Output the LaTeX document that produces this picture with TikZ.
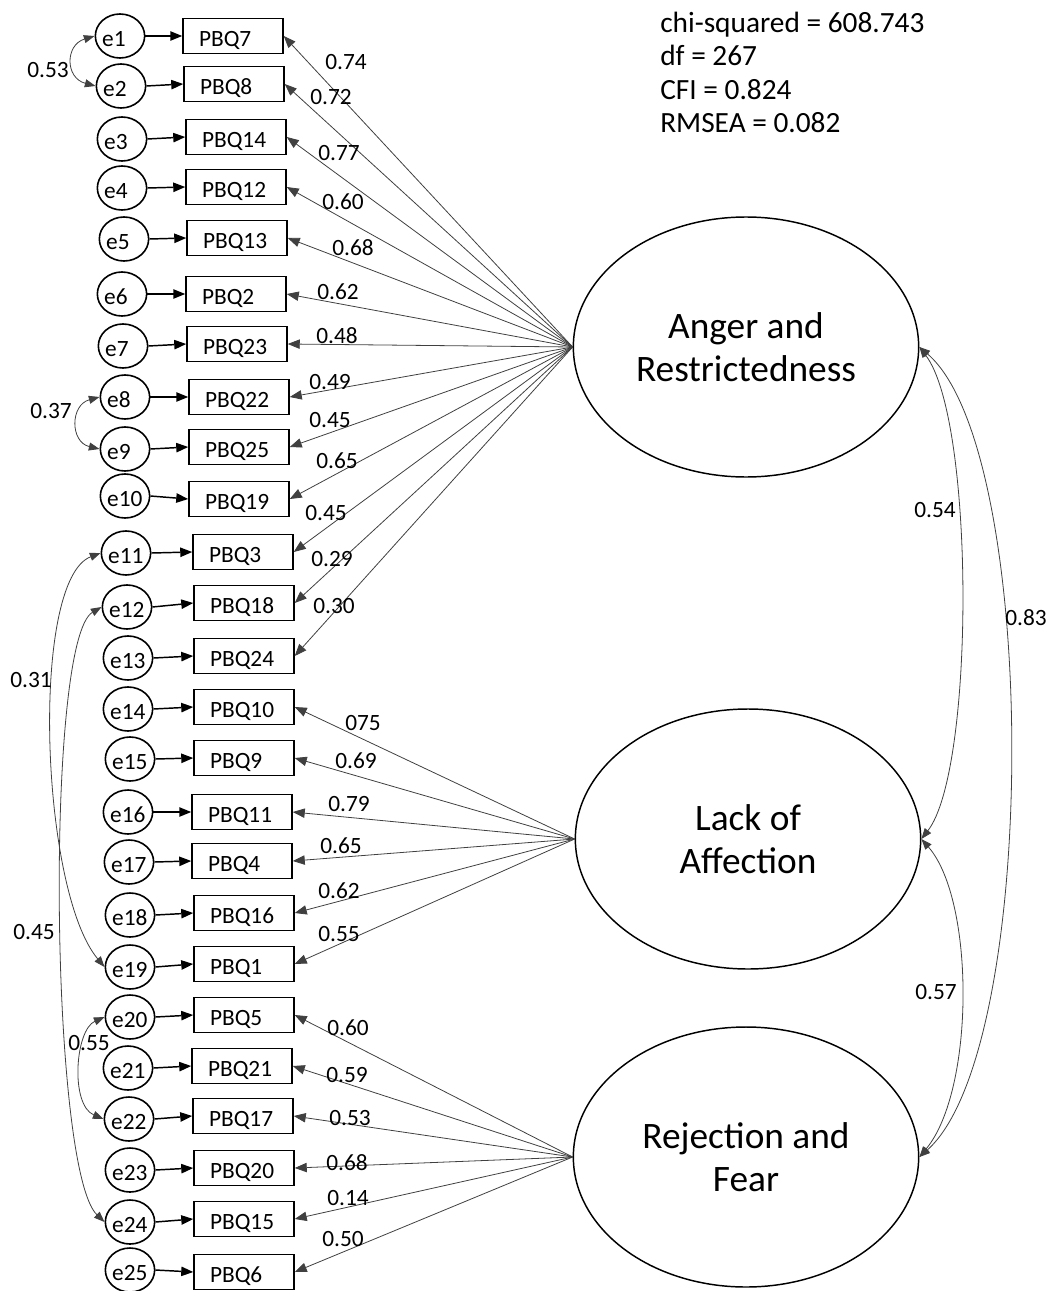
\documentclass[tikz,border=0pt]{standalone}
\usepackage{fontspec}
\setmainfont{Carlito}
\usetikzlibrary{shapes.geometric,arrows.meta}
\begin{document}
\begin{tikzpicture}[x=0.75pt,y=-0.75pt,
 errn/.style={ellipse,draw,line width=1.2pt,minimum width=37pt,minimum height=33pt,inner sep=0pt},
 errt/.style={anchor=west,inner sep=0pt,text height=17pt,text depth=1pt,font=\fontsize{17.5}{20}\selectfont},
 obsn/.style={rectangle,draw,line width=1.1pt,minimum width=75pt,minimum height=26pt,inner ysep=0pt,inner xsep=12pt,text width=51pt,align=left,text height=17pt,text depth=1pt,font=\fontsize{17.5}{20}\selectfont},
 latn/.style={ellipse,draw,line width=1.1pt,minimum width=259pt,minimum height=195pt,inner sep=0pt,align=center,font=\fontsize{28}{32}\selectfont},
 etip/.style={-{Triangle[length=9pt,width=7pt]},line width=1.1pt},
 load/.style={-{Triangle[length=9pt,width=7pt]},line width=0.6pt,draw=black!75},
 dbl/.style={{Triangle[length=8pt,width=6pt]}-{Triangle[length=8pt,width=6pt]},line width=0.6pt,draw=black!75},
 lbl/.style={inner sep=1pt,font=\fontsize{17.5}{20}\selectfont},
 fitt/.style={anchor=base west,inner sep=0pt,font=\fontsize{22}{25}\selectfont}
]
\useasboundingbox (0,0) rectangle (1047,1291);

\foreach \i/\ex/\ey/\bx/\by/\t in {
 1/120/36/233/36/PBQ7, 2/121/86/234/84/PBQ8, 3/122/139/236/137/PBQ14,
 4/122/188/236/187/PBQ12, 5/124/239/237/238/PBQ13, 6/122/294/236/294/PBQ2,
 7/123/346/237/344/PBQ23, 8/125/397/239/397/PBQ22, 9/125/449/239/447/PBQ25,
 10/125/496/239/499/PBQ19, 11/126/553/243/552/PBQ3, 12/127/607/244/603/PBQ18,
 13/128/658/244/656/PBQ24, 14/128/709/244/707/PBQ10, 15/130/759/244/758/PBQ9,
 16/128/812/242/812/PBQ11, 17/129/862/242/861/PBQ4, 18/130/915/244/913/PBQ16,
 19/130/967/244/964/PBQ1, 20/130/1017/244/1015/PBQ5, 21/128/1068/242/1066/PBQ21,
 22/129/1119/243/1116/PBQ17, 23/130/1170/244/1168/PBQ20, 24/130/1222/244/1219/PBQ15,
 25/130/1270/244/1272/PBQ6}{
 \node[errn] (e\i) at (\ex,\ey) {};
 \node[errt] (et\i) at ([xshift=5.5pt]e\i.west) {e\i};
 \node[obsn] (b\i) at (\bx,\by) {\t};
 \draw[etip] (e\i.east) -- (b\i.west);
}

\node[latn] (F1) at (746,347) {Anger and\\Restrictedness};
\node[latn] (F2) at (748,839) {Lack of\\Affection};
\node[latn] (F3) at (746,1157) {Rejection and\\Fear};

\foreach \i/\lx/\ly/\v in {1/346/62/0.74, 2/331/97/0.72, 3/339/153/0.77, 4/343/202/0.60,
 5/353/248/0.68, 6/338/292/0.62, 7/337/336/0.48, 8/330/382/0.49, 9/330/420/0.45,
 10/337/461/0.65, 11/326/513/0.45, 12/332/559/0.29, 13/334/606/0.30}{
 \draw[load] (F1.west) -- (b\i.east);
 \node[lbl] (l\i) at (\lx,\ly) {\v};
}
\foreach \i/\lx/\ly/\v in {14/363/723/075, 15/356/761/0.69, 16/349/804/0.79,
 17/341/846/0.65, 18/339/891/0.62, 19/339/934/0.55}{
 \draw[load] (F2.west) -- (b\i.east);
 \node[lbl] (l\i) at (\lx,\ly) {\v};
}
\foreach \i/\lx/\ly/\v in {20/348/1028/0.60, 21/347/1075/0.59, 22/350/1118/0.53,
 23/347/1163/0.68, 24/348/1198/0.14, 25/343/1239/0.50}{
 \draw[load] (F3.west) -- (b\i.east);
 \node[lbl] (l\i) at (\lx,\ly) {\v};
}

% residual covariances
\draw[dbl] (e1.west) .. controls (65,45) and (65,78) .. (e2.west);
\node[lbl] (c1) at (48,70) {0.53};
\draw[dbl] (e8.west) .. controls (70,405) and (70,442) .. (e9.west);
\node[lbl] (c2) at (51,411) {0.37};
\draw[dbl] (e11.west) .. controls (30,580) and (40,890) .. (e19.west);
\node[lbl] (c3) at (31,680) {0.31};
\draw[dbl] (e12.west) .. controls (45,640) and (50,1170) .. (e24.west);
\node[lbl] (c4) at (34,932) {0.45};
\draw[dbl] (e20.west) .. controls (75,1030) and (70,1105) .. (e22.west);
\node[lbl] (c5) at (89,1043) {0.55};

% factor covariances
\draw[dbl] (F1.east) .. controls (975,420) and (975,770) .. (F2.east);
\node[lbl] (c6) at (935,510) {0.54};
\draw[dbl] (F1.east) .. controls (1040,450) and (1040,1050) .. (F3.east);
\node[lbl] (c7) at (1026,618) {0.83};
\draw[dbl] (F2.east) .. controls (975,900) and (975,1090) .. (F3.east);
\node[lbl] (c8) at (936,992) {0.57};

% fit statistics
\node[fitt] (fit1) at (660,33) {chi-squared = 608.743};
\node[fitt] (fit2) at (660,66) {df = 267};
\node[fitt] (fit3) at (660,100) {CFI = 0.824};
\node[fitt] (fit4) at (660,133) {RMSEA = 0.082};
\end{tikzpicture}
\end{document}
